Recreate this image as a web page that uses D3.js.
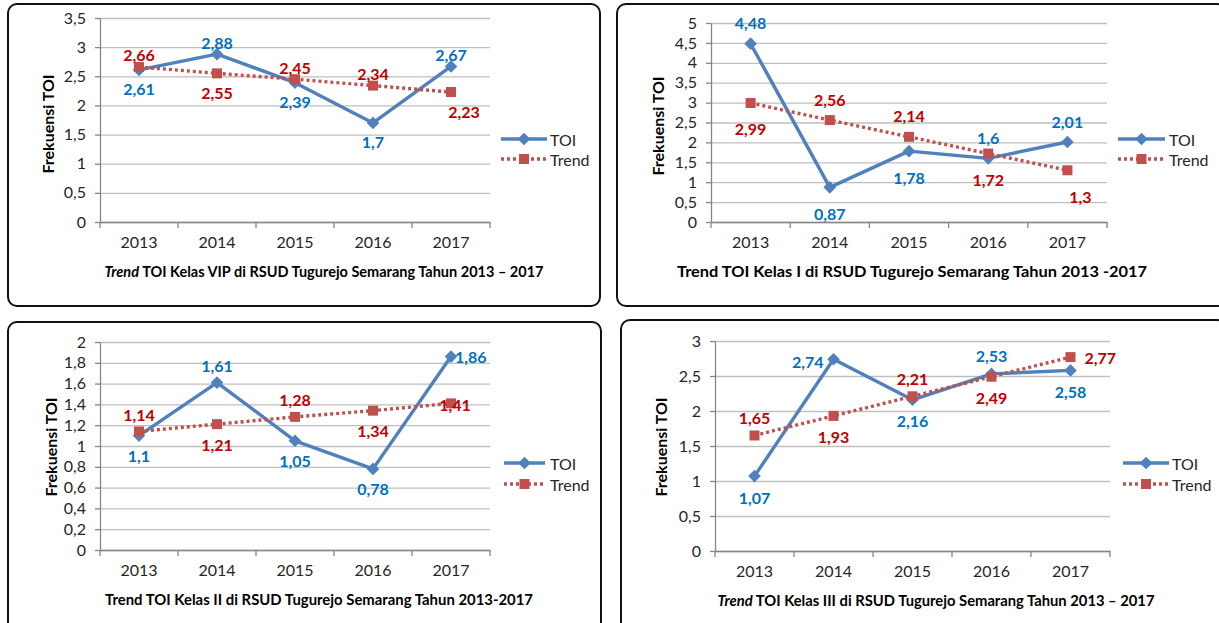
<!DOCTYPE html>
<html><head><meta charset="utf-8">
<script src="https://cdn.jsdelivr.net/npm/d3@7"></script>
<style>body{margin:0;background:#fff}svg{display:block}text{font-family:Lato,"Open Sans",sans-serif}</style>
</head><body>
<svg id="c" width="1219" height="623"></svg>
<script>
// ---- data ----
const years = ["2013","2014","2015","2016","2017"];
const seriesNames = ["TOI","Trend"];

const toiVIP   = [2.61, 2.88, 2.39, 1.70, 2.67];
const trendVIP = [2.66, 2.55, 2.45, 2.34, 2.23];
const ticksVIP = [0, 0.5, 1, 1.5, 2, 2.5, 3, 3.5];

const toiK1   = [4.48, 0.87, 1.78, 1.60, 2.01];
const trendK1 = [2.99, 2.56, 2.14, 1.72, 1.30];
const ticksK1 = [0, 0.5, 1, 1.5, 2, 2.5, 3, 3.5, 4, 4.5, 5];

const toiK2   = [1.10, 1.61, 1.05, 0.78, 1.86];
const trendK2 = [1.14, 1.21, 1.28, 1.34, 1.41];
const ticksK2 = [0, 0.2, 0.4, 0.6, 0.8, 1, 1.2, 1.4, 1.6, 1.8, 2];

const toiK3   = [1.07, 2.74, 2.16, 2.53, 2.58];
const trendK3 = [1.65, 1.93, 2.21, 2.49, 2.77];
const ticksK3 = [0, 0.5, 1, 1.5, 2, 2.5, 3];

const titleVIP = ["Trend", " TOI Kelas VIP di RSUD Tugurejo Semarang Tahun 2013 \u2013 2017"];
const titleK1  = ["", "Trend TOI Kelas I di RSUD Tugurejo Semarang Tahun 2013 -2017"];
const titleK2  = ["", "Trend TOI Kelas II di RSUD Tugurejo Semarang Tahun 2013-2017"];
const titleK3  = ["Trend", " TOI Kelas III di RSUD Tugurejo Semarang Tahun 2013 \u2013 2017"];

// label placement codes (t=above, b=below, l=left, r=right, br=below-right, c=centre)
const placeToiVIP   = ["b","t","b","b","t"];
const placeTrendVIP = ["t","b","t","t","br"];
const placeToiK1    = ["t","b","b","t","t"];
const placeTrendK1  = ["b","t","t","b","br"];
const placeToiK2    = ["b","t","b","b","r"];
const placeTrendK2  = ["t","b","t","b","c"];
const placeToiK3    = ["b","l","b","t","b"];
const placeTrendK3  = ["t","b","t","b","r"];

// ---- style / layout ----
const C = {toiLine:"#4F81BD", trendLine:"#C0504D", toiLab:"#0070C0", trendLab:"#C00000",
           grid:"#BFBFBF", axis:"#868686", text:"#262626"};

const panels = [
  {toi:toiVIP, trend:trendVIP, ticks:ticksVIP, pT:placeToiVIP, pR:placeTrendVIP, title:titleVIP,
   box:[8,4,600,306], plot:[100,18,490,222], titleX:324, titleW:439, ylab:[47,124], leg:[501,547,550,139,159], off:[-12,19], rdx:10},
  {toi:toiK1, trend:trendK1, ticks:ticksK1, pT:placeToiK1, pR:placeTrendK1, title:titleK1,
   box:[617,4,1226,306], plot:[711,23,1107,222], titleX:912, titleW:470, ylab:[657,126], leg:[1118,1165,1169,139,159], off:[-21,26], rdx:10},
  {toi:toiK2, trend:trendK2, ticks:ticksK2, pT:placeToiK2, pR:placeTrendK2, title:titleK2,
   box:[8,322,601,640], plot:[100,342,490,550], titleX:319, titleW:428, ylab:[50,447], leg:[504,545,550,463,484], off:[-17,20], rdx:4},
  {toi:toiK3, trend:trendK3, ticks:ticksK3, pT:placeToiK3, pR:placeTrendK3, title:titleK3,
   box:[621,320,1226,640], plot:[715,341,1110,551], titleX:936, titleW:437, ylab:[660,447], leg:[1123,1169,1172,463,484], off:[-18,21], rdx:14}
];

const svg = d3.select("#c");
const fmt = v => String(+v.toFixed(2)).replace(".", ",");
const diamond = d3.symbol().type(d3.symbolSquare).size(80)();
const square  = d3.symbol().type(d3.symbolSquare).size(100)();

panels.forEach(p => {
  const g = svg.append("g");
  const [bx0,by0,bx1,by1] = p.box;
  g.append("rect").attr("x",bx0).attr("y",by0).attr("width",bx1-bx0).attr("height",by1-by0)
    .attr("rx",9).attr("fill","#fff").attr("stroke","#111").attr("stroke-width",2);

  const [l,t,r,b] = p.plot;
  const x = d3.scaleBand().domain(years).range([l,r]).padding(0);
  const y = d3.scaleLinear().domain([0, d3.max(p.ticks)]).range([b,t]);
  const cx = d => x(d) + x.bandwidth()/2;

  // gridlines
  g.append("g").attr("transform",`translate(${l},0)`)
    .call(d3.axisLeft(y).tickValues(p.ticks).tickSize(-(r-l)).tickFormat(""))
    .call(a => { a.select(".domain").remove(); a.selectAll("line").attr("stroke",C.grid).attr("stroke-width",1.3); });
  // y axis with outward ticks
  g.append("g").attr("transform",`translate(${l},0)`)
    .call(d3.axisLeft(y).tickValues(p.ticks).tickSize(5).tickSizeOuter(0).tickPadding(9).tickFormat(fmt))
    .call(a => {
      a.select(".domain").attr("stroke",C.axis).attr("stroke-width",1.3);
      a.selectAll("line").attr("stroke",C.axis).attr("stroke-width",1.3);
      a.selectAll("text").attr("fill",C.text).style("font-size","16px").style("font-family","Lato");
    });
  // x axis
  g.append("g").attr("transform",`translate(0,${b})`)
    .call(d3.axisBottom(x).tickSize(0).tickPadding(15))
    .call(a => {
      a.select(".domain").attr("stroke",C.axis).attr("stroke-width",1.3);
      a.selectAll("text").attr("fill",C.text).style("font-size","16px").style("font-family","Lato");
    });
  // x boundary ticks
  const bounds = years.map(d => x(d)).concat([x(years[years.length-1]) + x.bandwidth()]);
  g.selectAll(".bt").data(bounds).join("line")
    .attr("x1",d=>d).attr("x2",d=>d).attr("y1",b).attr("y2",b+6)
    .attr("stroke",C.axis).attr("stroke-width",1.3);

  // y label
  g.append("text").attr("transform",`translate(${p.ylab[0]},${p.ylab[1]}) rotate(-90)`)
    .attr("text-anchor","middle").attr("dominant-baseline","central")
    .style("font-size","16px").style("font-weight","700").attr("fill","#000").text("Frekuensi TOI");

  // title
  const tt = g.append("text").attr("x",p.titleX).attr("y",b+55).attr("text-anchor","middle")
    .style("font-size","15.5px").style("font-weight","700").attr("fill","#000")
    .attr("textLength",p.titleW).attr("lengthAdjust","spacingAndGlyphs");
  if (p.title[0]) tt.append("tspan").style("font-style","italic").text(p.title[0]);
  tt.append("tspan").text(p.title[1]);

  const line = d3.line().x((d,i)=>cx(years[i])).y(d=>y(d));

  g.append("path").datum(p.toi).attr("d",line).attr("fill","none")
    .attr("stroke",C.toiLine).attr("stroke-width",3.4).attr("stroke-linejoin","round");
  g.selectAll(".dm").data(p.toi).join("path")
    .attr("d",diamond).attr("fill",C.toiLine)
    .attr("transform",(d,i)=>`translate(${cx(years[i])},${y(d)}) rotate(45)`);
  g.append("path").datum(p.trend).attr("d",line).attr("fill","none")
    .attr("stroke",C.trendLine).attr("stroke-width",3.4).attr("stroke-dasharray","3,3");
  g.selectAll(".sq").data(p.trend).join("path")
    .attr("d",square).attr("fill",C.trendLine)
    .attr("transform",(d,i)=>`translate(${cx(years[i])},${y(d)})`);

  // data labels
  const place = (code, px, py) => {
    switch (code) {
      case "t":  return [px, py + p.off[0], "middle"];
      case "b":  return [px, py + p.off[1], "middle"];
      case "l":  return [px - 10, py + 2, "end"];
      case "r":  return [px + p.rdx, py, "start"];
      case "br": return [px + 13, py + p.off[1], "middle"];
      default:   return [px + 4, py + 1, "middle"];
    }
  };
  [[p.toi,p.pT,C.toiLab],[p.trend,p.pR,C.trendLab]].forEach(([vals,pl,col]) => {
    g.selectAll(null).data(vals).join("text")
      .each(function(d,i){
        const [lx,ly,anc] = place(pl[i], cx(years[i]), y(d));
        d3.select(this).attr("x",lx).attr("y",ly).attr("text-anchor",anc);
      })
      .attr("dominant-baseline","central")
      .style("font-size","16px").style("font-weight","700").attr("fill",col)
      .text(d=>fmt(d));
  });

  // legend
  const [lx0,lx1,ltx,ly0,ly1] = p.leg;
  const lm = (lx0+lx1)/2;
  g.append("line").attr("x1",lx0).attr("x2",lx1).attr("y1",ly0).attr("y2",ly0)
    .attr("stroke",C.toiLine).attr("stroke-width",3.4);
  g.append("path").attr("d",diamond).attr("fill",C.toiLine).attr("transform",`translate(${lm},${ly0}) rotate(45)`);
  g.append("text").attr("x",ltx).attr("y",ly0).attr("dominant-baseline","central")
    .style("font-size","16px").attr("fill",C.text).text(seriesNames[0]);
  g.append("line").attr("x1",lx0).attr("x2",lx1).attr("y1",ly1).attr("y2",ly1)
    .attr("stroke",C.trendLine).attr("stroke-width",3.4).attr("stroke-dasharray","3,3");
  g.append("path").attr("d",square).attr("fill",C.trendLine).attr("transform",`translate(${lm},${ly1})`);
  g.append("text").attr("x",ltx).attr("y",ly1).attr("dominant-baseline","central")
    .style("font-size","16px").attr("fill",C.text).text(seriesNames[1]);
});
</script>
</body></html>
